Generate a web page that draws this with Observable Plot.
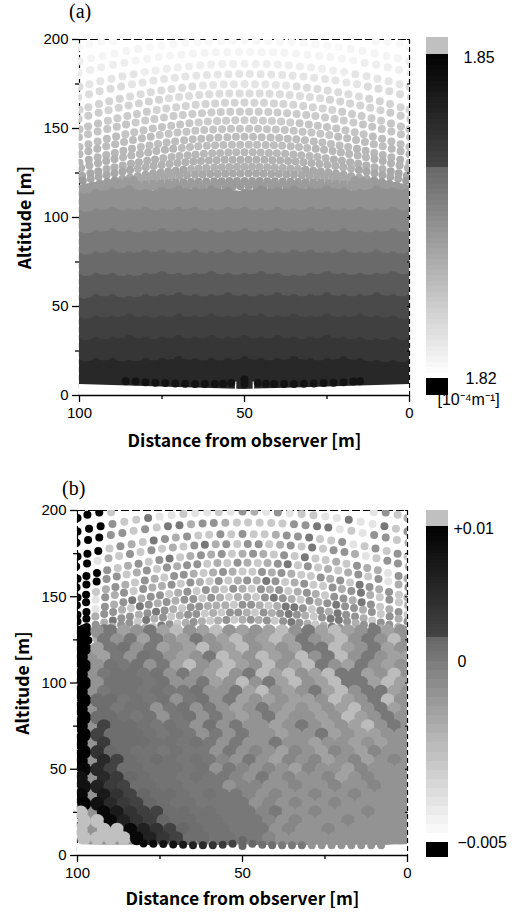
<!DOCTYPE html>
<html><head><meta charset="utf-8">
<script src="https://cdn.jsdelivr.net/npm/d3@7"></script>
<script src="https://cdn.jsdelivr.net/npm/@observablehq/plot@0.6"></script>
<style>
html,body{margin:0;padding:0;background:#fff;width:517px;height:912px;overflow:hidden}
#stage{position:relative;width:517px;height:912px}
#stage>svg,#stage>div{position:absolute}
.tag{font:20px "Liberation Serif",serif;color:#000}
</style></head><body><div id="stage"></div>
<script>
const xTicks=[100,50,0], xMinor=[75,25], yTicks=[0,50,100,150,200], yMinor=[25,75,125,175];
const xTitle="Distance from observer [m]", yTitle="Altitude [m]";

// dot rows: horizontal distance from the x=50 axis, and altitude of each dot
const rowDx=[
[39.8,43.4,47,50],
[0,3.6,7.2,10.7,14.3,17.9,21.5,25.1,28.6,32.2,35.8,39.4,43,46.5,50],
[1.7,5.2,8.7,12.1,15.6,19.1,22.6,26,29.5,33,36.4,39.9,43.4,46.8,50.3],
[0,3.4,6.7,10.1,13.4,16.8,20.2,23.5,26.9,30.2,33.6,37,40.3,43.7,47,50],
[1.6,4.9,8.1,11.4,14.6,17.9,21.1,24.4,27.6,30.9,34.1,37.4,40.6,43.9,47.1,50.4],
[0,3.2,6.3,9.5,12.6,15.8,18.9,22.1,25.2,28.4,31.5,34.7,37.8,41,44.1,47.3,50],
[1.5,4.6,7.6,10.7,13.7,16.8,19.8,22.9,25.9,29,32,35.1,38.1,41.2,44.2,47.3,50.3],
[0,3,5.9,8.9,11.8,14.8,17.8,20.7,23.7,26.6,29.6,32.6,35.5,38.5,41.4,44.4,47.4,50],
[1.4,4.3,7.2,10,12.9,15.8,18.7,21.5,24.4,27.3,30.1,33,35.9,38.7,41.6,44.5,47.4,50.2],
[0,2.8,5.6,8.3,11.1,13.9,16.7,19.5,22.2,25,27.8,30.6,33.4,36.1,38.9,41.7,44.5,47.3,50],
[1.4,4.1,6.8,9.5,12.2,14.9,17.6,20.3,23,25.7,28.4,31.1,33.8,36.5,39.2,41.9,44.6,47.3,50],
[0,2.6,5.2,7.9,10.5,13.1,15.7,18.3,21,23.6,26.2,28.8,31.4,34.1,36.7,39.3,41.9,44.5,47.2,50],
[1.3,3.8,6.4,8.9,11.4,14,16.5,19,21.6,24.1,26.7,29.2,31.7,34.3,36.8,39.4,41.9,44.4,47,49.5],
[0,2.5,4.9,7.4,9.8,12.3,14.8,17.2,19.7,22.1,24.6,27.1,29.5,32,34.4,36.9,39.4,41.8,44.3,46.7,49.2],
[1.2,3.6,6,8.4,10.8,13.2,15.5,17.9,20.3,22.7,25.1,27.5,29.9,32.3,34.7,37,39.4,41.8,44.2,46.6,49,51.4],
[0,2.3,4.6,6.9,9.2,11.6,13.9,16.2,18.5,20.8,23.1,25.4,27.7,30,32.3,34.7,37,39.3,41.6,43.9,46.2,48.5],
[1.2,3.5,5.8,8.1,10.4,12.7,15,17.4,19.7,22,24.3,26.6,28.9,31.2,33.5,35.8,38.1,40.5,42.8,45.1,47.4,49.7],
[0,2.3,4.6,6.9,9.2,11.6,13.9,16.2,18.5,20.8,23.1,25.4,27.7,30,32.3,34.7,37,39.3,41.6,43.9,46.2,48.5],
[1.2,3.5,5.8,8.1,10.4,12.7,15,17.4,19.7,22,24.3,26.6,28.9,31.2,33.5,35.8,38.1,40.5,42.8,45.1,47.4,49.7]];
const rowZ=[
[199,198.8,197.6,195.7],
[199.4,199.3,199.2,198.9,198.4,197.9,197.3,196.5,195.6,194.6,193.5,192.2,190.8,189.4,187.8],
[193,192.9,192.8,192.5,192,191.5,190.9,190.1,189.2,188.2,187,185.8,184.4,182.9,181.3],
[186.4,186.3,186.2,185.9,185.5,184.9,184.3,183.5,182.6,181.7,180.5,179.3,177.9,176.5,174.9,173.4],
[180.6,180.5,180.4,180.1,179.7,179.2,178.5,177.8,176.9,175.9,174.8,173.6,172.3,170.9,169.3,167.6],
[175,174.9,174.8,174.5,174.1,173.6,172.9,172.2,171.3,170.3,169.2,168,166.7,165.3,163.7,162,160.5],
[169.7,169.6,169.5,169.2,168.8,168.3,167.7,167,166.1,165.2,164.1,162.9,161.7,160.3,158.8,157.1,155.4],
[164.6,164.5,164.4,164.1,163.8,163.3,162.7,162,161.2,160.4,159.4,158.2,157,155.7,154.3,152.8,151.1,149.6],
[159.4,159.4,159.2,159,158.6,158.2,157.6,157,156.2,155.4,154.5,153.4,152.3,151,149.7,148.3,146.8,145.1],
[154.6,154.6,154.4,154.2,153.9,153.4,152.9,152.3,151.6,150.9,150,149,147.9,146.8,145.5,144.2,142.7,141.2,139.6],
[149.8,149.8,149.6,149.4,149.1,148.7,148.2,147.7,147,146.3,145.4,144.5,143.5,142.4,141.2,140,138.6,137.2,135.6],
[145.3,145.3,145.1,144.9,144.7,144.3,143.9,143.4,142.7,142.1,141.3,140.5,139.6,138.6,137.5,136.3,135.1,133.8,132.4,130.8],
[140.9,140.9,140.8,140.6,140.3,140,139.6,139.1,138.6,138,137.3,136.5,135.7,134.8,133.8,132.8,131.7,130.5,129.2,127.8],
[136.6,136.6,136.5,136.3,136.1,135.8,135.4,135,134.5,134,133.3,132.6,131.9,131.1,130.2,129.2,128.2,127.2,126,124.8,123.5],
[132.5,132.5,132.4,132.2,132,131.7,131.4,131,130.6,130.1,129.5,128.9,128.2,127.5,126.7,125.8,124.9,123.9,122.9,121.8,120.6,119.5],
[128.5,128.5,128.4,128.3,128.1,127.8,127.5,127.2,126.8,126.3,125.8,125.3,124.7,124,123.3,122.5,121.7,120.8,119.9,118.9,117.8,116.7],
[124.7,124.7,124.6,124.5,124.4,124.2,124,123.8,123.5,123.1,122.8,122.4,122,121.5,120.9,120.4,119.8,119.1,118.5,117.8,117,116.2],
[120.5,120.5,120.5,120.4,120.3,120.2,120.1,120,119.8,119.6,119.4,119.2,119,118.7,118.4,118.1,117.8,117.4,117,116.6,116.2,115.8],
[117.5,117.5,117.5,117.4,117.4,117.3,117.2,117.1,117,116.9,116.8,116.6,116.5,116.3,116.1,115.9,115.7,115.5,115.3,115.1,114.8,114.6]];

// panel (a): extinction against altitude, stepped
const altBins=[121,127,133,139,146,153,160,167,174,181,188,195,1000];
const altValues=[1.8318,1.8302,1.8291,1.8284,1.8276,1.8268,1.826,1.8251,1.8241,1.8231,1.822,1.8213,1.8208];
const bandX=[100,95,90,85,80,75,70,65,60,55,50,45,40,35,30,25,20,15,10,5,0];
const bandTops=[
[114,116,117,118,116,117,118,117,118,117,116,118,117,118,117,118,117,116,118,117,117],
[104,105,106,105,106,105,106,106,105,106,106,105,106,105,106,106,105,106,105,106,105],
[92,93,94,93,93,94,93,94,93,93,94,93,94,93,94,93,94,93,93,94,93],
[80,81,82,81,82,82,81,82,81,82,81,82,81,82,82,81,82,81,82,81,81],
[68,69,69,68,69,70,69,69,70,69,69,70,69,68,69,70,69,69,69,70,69],
[55,57,57,56,57,57,58,57,57,58,57,57,58,57,57,58,57,57,58,57,57],
[44,45,45,46,45,45,46,45,46,45,46,46,45,46,45,46,45,46,45,45,44],
[32,33,33,34,33,33,34,33,34,33,34,33,34,33,33,34,33,33,32,33,32],
[20,21,21,20,21,21,22,21,21,21,22,21,21,22,21,21,22,21,20,20,20]];
const bandValues=[1.8331,1.8344,1.8359,1.8375,1.8394,1.8413,1.8425,1.8436,1.8453];
const maskX=[100,90,80,70,60,50,40,30,20,10,0];
const maskZ=[6.2,5.6,5.1,4.5,4,3.4,4,4.5,5.1,5.6,6.2];
const baseAX=[86,83,80,77,74,71,68,65,62,59,56.5,54,50,50,46,43.5,41,38,35,32,29,26,23,20,17,15];
const baseAZ=[8,7.8,7.5,7.2,7,6.8,6.6,6.4,6.4,6.4,6.6,7,6.5,9,7,6.6,6.4,6.4,6.4,6.6,6.8,7,7.2,7.5,7.8,8];

// panel (b): dot values in units of 0.001, left to right
const rowLevels=[
[10,10,10,-3,-4,-1,-3,-2],
[10,10,10,-1,-3,-3,0,-4,-4,-3,-4,-4,-3,-4,-1,-2,-4,-1,-4,-3,-3,-4,-4,0,-4,-4,0,-3,-1],
[10,10,10,-1,-1,-3,-1,-3,0,0,-2,-1,-1,-2,-3,-3,-3,-3,-3,-1,-1,0,0,-4,-3,-4,-1,-1,-3,-2],
[10,10,10,-3,-1,-2,-3,0,-1,-2,-1,-3,-3,-1,-3,-1,-3,-3,-2,-1,-1,0,-3,-3,-1,-4,-3,-1,-3,-1,-3],
[10,10,-4,-2,-3,-1,-3,-1,-3,-2,-3,-1,0,-2,-1,-3,-1,-1,-3,-2,-1,-3,0,-3,-1,-1,-2,-4,-3,-1,-1,-2],
[10,10,10,-1,-3,-2,-1,-3,-1,0,-3,-2,-1,-2,-1,-3,-2,-1,-2,-3,-1,-3,0,-3,-3,-2,-3,-1,-2,-2,-4,-1,-2],
[10,10,10,-1,-1,-3,-2,-1,-3,-1,-2,-1,-1,-3,-2,-3,-1,-2,-3,-2,-1,0,-3,-1,-3,-2,-3,-2,-1,-3,-1,-4,-2,-1],
[10,10,-3,-2,-1,-2,-3,-1,-2,-3,-1,-1,-2,-3,-2,-1,-2,-3,-3,-1,-2,-1,-2,-3,-3,-1,-2,-1,-3,0,-1,-2,-1,-3,-2],
[10,10,-4,-1,-2,-1,-3,-1,-2,-2,-1,-3,-1,-2,-3,-1,-3,-2,-1,-2,0,-1,-3,-2,-1,-3,-3,-1,-2,-1,0,-2,-3,-1,-3,-2],
[10,10,-4,-1,-2,-1,0,-2,-1,-1,-3,-2,-1,-3,-1,-2,-3,-1,-2,-3,-1,-2,-1,-3,-2,-1,-2,-3,-1,-1,-2,0,-1,-3,-2,-1,-3],
[10,10,-2,-1,-1,-2,-3,0,-1,-2,-1,-2,-1,-1,-3,-1,-2,-3,-2,-2,-3,-1,0,-1,-2,-3,-1,-2,-1,0,-1,-1,-2,-1,-3,-1,-2,-1],
[10,10,-1,-2,0,-1,-1,-2,-1,0,-1,-2,-3,-1,-1,-2,-2,-2,-3,-1,-1,-2,-3,-2,0,0,-1,-3,-1,-2,0,-1,-1,-2,-3,-1,-1,-2,-2],
[10,10,-1,0,-2,-1,-1,-3,0,-2,-1,-3,-2,-1,-1,-3,-2,-3,-1,-1,-2,-3,-1,-2,-1,0,-1,-2,-3,-1,0,0,-1,-2,-1,0,-2,-1,-2,-1],
[10,10,-2,-1,0,-1,-2,-1,-2,-3,0,-1,-3,-2,-1,-2,-3,-2,-1,-3,-2,-1,-2,-1,-3,-1,0,-1,-2,-3,-2,0,-1,-1,-2,-1,0,-1,-2,0,-1]];

// panel (b): mosaic below 130 m, even and odd rows are staggered
const mosaicX=[98,94,90,86,82,78,74,70,66,62,58,54,50,46,42,38,34,30,26,22,18,14,10,6,2];
const mosaicXAlt=[99,92,88,84,80,76,72,68,64,60,56,52,48,44,40,36,32,28,24,20,16,12,8,4,0];
const mosaicZ=[130,125,120,115,110,105,100,95,90,85,80,75,70,65,60,55,50,45,40,35,30,25,20,15,10];
const mosaicLevels=[
[10,-1,0,-1.5,-1,0,-1.5,-2.5,-1,-1.5,-2.5,-1,-1.5,-1,-1.5,-2.5,-1,0,-1.5,-2.5,-1.5,-1,0,-1.5,-1],
[10,0,-1,0,-1.5,0,-1,-1.5,0,-1,-1.5,-2.5,-1,-1.5,-2.5,-1.5,0,-1,-1.5,-2.5,-1,0,-1,-2.5,-1],
[10,-1.5,0,.5,-1,0,-1.5,-1,-1.5,-2.5,-1,-1.5,-2.5,-1,-1.5,-1,-1.5,0,0,-2.5,-1.5,-1,0,-1.5,-1],
[10,-1.5,0,-1,.5,0,-1,-1.5,-1,0,-2.5,-1.5,-1,-2.5,-1.5,-1,-2.5,-1,0,-2.5,-1,0,-1,-1.5,-1.5],
[10,-1,.5,0,.5,-1,0,-1.5,-2.5,-1,-1.5,-2.5,-1.5,-1,-2.5,-1,-1.5,-2.5,0,-1,-1.5,0,-1,-1.5,-1],
[10,0,.5,.5,0,.5,-1,0,-1,-1.5,-2.5,-1,0,-2.5,-1.5,-2.5,-1,-1.5,-2.5,0,0,-1.5,-1,-2.5,-1],
[10,-1,.5,.5,.5,0,.5,-1,-1,0,-1.5,-1,-2.5,-1,0,-1.5,-2.5,-1,-1.5,-2.5,0,0,-1.5,-2.5,-1.5],
[10,0,.5,.5,0,.5,0,0,.5,-1,-1,0,-1.5,-2.5,-1,-1.5,-1,0,-1.5,-2.5,-1,0,0,-1.5,-1],
[10,1,1,0,.5,0,.5,-1,0,.5,-1,0,-1.5,-1,-1.5,-1,-1.5,-1.5,-1,-2.5,-1.5,-1,0,-2.5,-1],
[10,1,0,.5,.5,-1,0,.5,-1,0,-1,-1.5,-1,0,-1,-1.5,-1,-1.5,-1,-1.5,-2.5,-1,0,-1.5,-1],
[10,1,1,.5,0,.5,-1,0,.5,-1,0,-1,-1.5,-1,0,-1.5,-1,-1,-1.5,-1,-2.5,-1.5,-1,0,-1],
[10,2,1,1,.5,0,.5,0,-1,.5,-1,0,-1,-1,-1.5,-1,0,-1,-1.5,-1,-1.5,-2.5,-1,0,-1],
[10,2,1,1,1,.5,0,.5,0,-1,0,-1,0,-1,-1,-1.5,-1,-1,0,-1.5,-1,-1.5,-1.5,-1,-1],
[10,3,1,1,1,.5,.5,0,.5,0,-1,0,-1,-1,0,-1,-1,-1.5,-1,-1,-1.5,-1,-1.5,-1,-1],
[10,4,1.5,1,.5,.5,0,.5,0,0,-1,0,-1,-.5,-1,-1.5,-.5,-1,-1.5,-.5,-1,-1.5,-.5,-1,-1],
[10,5,2,1,.5,1,.5,0,.5,0,-.5,-1,0,-1,-1.5,-.5,-1,-.5,-1.5,-1,-.5,-1.5,-1,-.5,-1],
[9,5,2,1,1,.5,.5,.5,0,.5,-1,0,-.5,-1,-.5,-1,-1.5,-.5,-1,-1,-1.5,-.5,-1,-1,-1],
[8,5,3,1.5,1,.5,.5,0,.5,0,0,-.5,-1,0,-1,-.5,-1,-1,-.5,-1.5,-1,-.5,-1,-1,-1],
[8,6,3,2,1,1,.5,.5,0,0,0,-1,-.5,-.5,-1,-1,-.5,-1,-1,-.5,-1,-1,-.5,-1,-1],
[9,7,4,2,1.7,1,1,.5,0,.5,0,0,-.5,-1,-.5,-1,-1,-.5,-1,-1,-.5,-1,-1,-1,-1],
[10,8,5,3,2,1.7,1,.5,.5,0,0,0,0,-1,-.5,-1,-.5,-1,-1,-.5,-1,-1,-1,-1,-1],
[10.5,9,7,4,2.5,2,1,1,.5,.5,0,0,0,-.5,0,-1,-1,-.5,-1,-1,-1,-.5,-1,-1,-1],
[10.5,10.5,9,6,4,2.5,1.7,1,1,.5,.5,0,0,0,-.5,-1,-.5,-1,-1,-1,-.5,-1,-1,-1,-1],
[10.5,10.5,10.5,9,6,4,2,1.7,1,.5,.5,0,0,0,-1,-.5,-1,-1,-.5,-1,-1,-1,-1,-1,-1],
[10.5,10.5,10.5,10.5,9,6,3.5,2,1,1,.5,.5,0,0,-.5,-1,-1,-1,-1,-1,-1,-1,-1,-1,-1]];
const baseBX=[80,77,74,71,68,65,62,59,56,53,50,50,47,44,41,38,35,32,29,26,23,20,17,14,11,8];
const baseBZ=[7,6.8,6.6,6.4,6.2,6,6,6,6.3,6.8,5.5,9,6.8,6.3,6,6,6,6,6,6,6,6,6,6,6,6];
const baseBV=[9,9,8,8,7,6,5,4,3,2,1.7,1.7,1.7,1,1,0,0,0,-1,-1,-1,-1,-1,-1,-1,-1];

// legends
const rampA=[1.82,1.8205,1.821,1.8215,1.822,1.8225,1.823,1.8235,1.824,1.8245,1.825,1.8255,1.826,1.8265,1.827,1.8275,1.828,1.8285,1.829,1.8295,1.83,1.8305,1.831,1.8315,1.832,1.8325,1.833,1.8335,1.834,1.8345,1.835,1.8355,1.836,1.8365,1.837,1.8375,1.838,1.8385,1.839,1.8395,1.84,1.8405,1.841,1.8415,1.842,1.8425,1.843,1.8435,1.844,1.8445,1.845,1.8455,1.846,1.8465,1.847,1.8475,1.848,1.8485,1.849,1.8495,1.85];
const rampB=[-5,-4.75,-4.5,-4.25,-4,-3.75,-3.5,-3.25,-3,-2.75,-2.5,-2.25,-2,-1.75,-1.5,-1.25,-1,-0.75,-0.5,-0.25,0,0.25,0.5,0.75,1,1.25,1.5,1.75,2,2.25,2.5,2.75,3,3.25,3.5,3.75,4,4.25,4.5,4.75,5,5.25,5.5,5.75,6,6.25,6.5,6.75,7,7.25,7.5,7.75,8,8.25,8.5,8.75,9,9.25,9.5,9.75,10];
const labelsA=[{t:"1.85",v:1.8497,x:463},{t:"1.82",v:1.82,x:465},{t:"[10⁻⁴m⁻¹]",v:1.818,x:437}];
const labelsB=[{t:"+0.01",v:9.8,x:453},{t:"0",v:0,x:457},{t:"−0.005",v:-5,x:457}];

const stage=document.getElementById("stage");
const font={fontFamily:"'Liberation Sans',Arial,sans-serif",fontSize:"15px",background:"transparent",color:"#000"};
const titleFont="'Noto Sans CJK JP','Noto Sans',sans-serif";

function flatten(nRows,val){
  const out=[];
  for(let r=0;r<nRows;r++){
    const dx=rowDx[r],z=rowZ[r],pts=[];
    for(let i=dx.length-1;i>=0;i--) if(dx[i]>0) pts.push({x:50+dx[i],z:z[i]});
    for(let i=0;i<dx.length;i++) pts.push({x:50-dx[i],z:z[i]});
    pts.forEach((p,i)=>out.push({...p,v:val(p,r,i)}));
  }
  return out;
}
function axes(){
  return [
    Plot.ruleX([100,0],{strokeDasharray:"5,3",strokeWidth:1.2}),
    Plot.ruleY([200],{strokeDasharray:"8,3",strokeWidth:1.2})
  ];
}
function axesTop(titleDy){
  return [
    Plot.ruleY([0],{strokeWidth:1.5}),
    Plot.axisX({ticks:xTicks,tickSize:7,tickPadding:5,label:null,strokeWidth:1.3,tickFormat:d=>String(d)}),
    Plot.axisX({ticks:xMinor,tickSize:4,label:null,strokeWidth:1.3,tickFormat:()=>""}),
    Plot.axisY({ticks:yTicks,tickSize:7,tickPadding:4,label:null,strokeWidth:1.3,tickFormat:d=>String(d)}),
    Plot.axisY({ticks:yMinor,tickSize:4,label:null,strokeWidth:1.3,tickFormat:()=>""}),
    Plot.axisY({anchor:"right",ticks:yTicks.concat(yMinor),tickSize:-3,label:null,strokeWidth:1,tickFormat:()=>""}),
    Plot.text([xTitle],{x:()=>50,frameAnchor:"bottom",dy:titleDy,text:d=>d,fontFamily:titleFont,fontWeight:700,fontSize:17.5,lineAnchor:"middle"}),
    Plot.text([yTitle],{y:()=>100,frameAnchor:"left",textAnchor:"middle",dx:-54,rotate:-90,text:d=>d,fontFamily:titleFont,fontWeight:700,fontSize:17.5})
  ];
}
function maskMarks(){
  return [
    Plot.areaY(maskX,{x:d=>d,y1:()=>-1,y2:(d,i)=>maskZ[i],fill:"white",clip:"frame"}),
    Plot.ruleX([47.3,52.7],{y1:()=>2,y2:()=>7.5,stroke:"white",strokeWidth:1.5})
  ];
}

// ---------- panel (a)
const dotsA=flatten(rowDx.length,p=>altValues[d3.bisectRight(altBins,p.z)]);
const bandMarks=bandTops.flatMap((tops,i)=>[
  Plot.areaY(bandX,{x:d=>d,y1:()=>0,y2:(d,j)=>tops[j]-1.5,fill:()=>bandValues[i]}),
  Plot.dot(bandX,{x:d=>d,y:(d,j)=>tops[j]-2.8,r:5,fill:()=>bandValues[i],stroke:"none",clip:"frame"})
]);
const plotA=Plot.plot({
  width:517,height:460,marginLeft:79,marginRight:108,marginTop:39,marginBottom:65,style:font,
  x:{domain:[100,0],axis:null},y:{domain:[0,200],axis:null},
  color:{type:"linear",domain:[1.82,1.85],range:["#ffffff","#000000"],clamp:true},
  marks:[
    ...axes(),
    Plot.dot(dotsA,{x:"x",y:"z",r:4,fill:"v",stroke:"none",clip:"frame"}),
    ...bandMarks,
    ...maskMarks(),
    Plot.dot(baseAX,{x:d=>d,y:(d,i)=>baseAZ[i],r:4,fill:()=>1.8478,stroke:"none",clip:"frame"}),
    ...axesTop(46)
  ]
});
plotA.style.left="0";plotA.style.top="0";stage.append(plotA);

// ---------- panel (b)
const dotsB=flatten(rowLevels.length,(p,r,i)=>rowLevels[r][i]??-1);
const mosaic=mosaicZ.flatMap((z,r)=>(r%2?mosaicXAlt:mosaicX).map((x,c)=>({x,z,v:mosaicLevels[r][c]})));
const colorB={type:"linear",domain:[-5.001,-5,0,1.78,1.7801,10,10.001],range:["#000000","#ffffff","#787878","#666666","#444444","#000000","#c0c0c0"],clamp:true};
const plotB=Plot.plot({
  width:517,height:457,marginLeft:77,marginRight:110,marginTop:40,marginBottom:72,style:font,
  x:{domain:[100,0],axis:null},y:{domain:[0,200],axis:null},color:colorB,
  marks:[
    ...axes(),
    Plot.dot(dotsB,{x:"x",y:"z",r:4,fill:"v",stroke:"none",clip:"frame"}),
    Plot.rect([[6,122]],{x1:()=>97,x2:()=>0,y1:d=>d[0],y2:d=>d[1],fill:()=>-1}),
    Plot.dot(mosaic,{x:"x",y:"z",r:7,fill:"v",stroke:"none",clip:"frame"}),
    ...maskMarks(),
    Plot.dot(baseBX,{x:d=>d,y:(d,i)=>baseBZ[i],r:4,fill:(d,i)=>baseBV[i],stroke:"none",clip:"frame"}),
    ...axesTop(44)
  ]
});
plotB.style.left="0";plotB.style.top="470px";stage.append(plotB);

// ---------- legends
function legend(top,height,ramp,pos,color,over,under,labels){
  const cells=ramp.slice(0,-1);
  const yScale={domain:[0,height],range:[0,height],axis:null};
  const lg=Plot.plot({
    width:97,height,margin:0,style:font,
    x:{domain:[0,1],range:[6,28],axis:null},y:yScale,color,
    marks:[
      Plot.rect(cells,{x1:()=>0,x2:()=>1,y1:d=>pos(d),y2:(d,i)=>pos(ramp[i+1]),fill:d=>d,shapeRendering:"crispEdges"}),
      Plot.rect([over],{x1:()=>0,x2:()=>1,y1:d=>pos(d[0]),y2:d=>pos(d[1]),fill:"#c0c0c0",shapeRendering:"crispEdges"}),
      Plot.rect([under],{x1:()=>0,x2:()=>1,y1:d=>pos(d[0]),y2:d=>pos(d[1]),fill:"#000",shapeRendering:"crispEdges"})
    ]
  });
  lg.style.left="420px";lg.style.top=top+"px";stage.append(lg);
  const tx=Plot.plot({
    width:517,height,margin:0,style:{...font,fontSize:"16px"},
    x:{domain:[0,517],range:[0,517],axis:null},y:yScale,
    marks:[Plot.text(labels,{x:"x",y:d=>pos(d.v),text:"t",textAnchor:"start",fontSize:16})]
  });
  tx.style.left="0";tx.style.top=top+"px";tx.style.pointerEvents="none";stage.append(tx);
}
legend(0,420,rampA,d3.scaleLinear().domain([1.82,1.85]).range([378,54]),
  {type:"linear",domain:[1.82,1.8394,1.83941,1.85],range:["#ffffff","#666666","#444444","#000000"]},
  [1.85,1.85157],[1.81843,1.82],labelsA);
legend(400,480,rampB,d3.scaleLinear().domain([-5,0,10]).range([442,261,126]),
  {type:"linear",domain:[-5,0,1.74,1.7401,10],range:["#ffffff","#787878","#666666","#444444","#000000"]},
  [10,11.2],[-5.42,-5],labelsB);

// ---------- panel tags
[["(a)",69,0],["(b)",62,477]].forEach(([t,l,tp])=>{
  const d=document.createElement("div");d.className="tag";d.textContent=t;d.style.left=l+"px";d.style.top=tp+"px";stage.append(d);
});
</script></body></html>
